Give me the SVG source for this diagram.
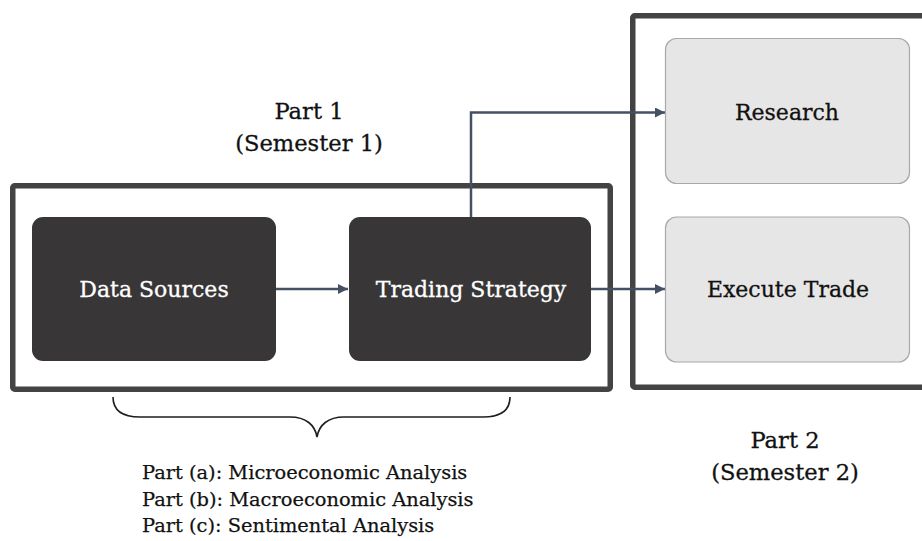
<svg xmlns="http://www.w3.org/2000/svg" width="922" height="541" viewBox="0 0 922 541">
<defs>
<style>
.frame{fill:none;stroke:#434343;stroke-width:5.5}
.dark{fill:#383637}
.light{fill:#e6e6e6;stroke:#a8a8a8;stroke-width:1.2}
.wt{font-family:"DejaVu Serif",serif;font-size:22px;fill:#ffffff;stroke:#ffffff;stroke-width:0.3;text-anchor:middle}
.bt{font-family:"DejaVu Serif",serif;font-size:22px;fill:#111111;stroke:#111111;stroke-width:0.3;text-anchor:middle}
.lbl{font-family:"DejaVu Serif",serif;font-size:22.6px;fill:#111111;stroke:#111111;stroke-width:0.3;text-anchor:middle}
.note{font-family:"DejaVu Serif",serif;font-size:19.4px;fill:#111111;stroke:#111111;stroke-width:0.25}
.conn{fill:none;stroke:#465063;stroke-width:2.5}
</style>
<marker id="ah" viewBox="0 0 10 10" refX="10" refY="5" markerWidth="10" markerHeight="10" markerUnits="userSpaceOnUse" orient="auto">
<path d="M0,0 L10,5 L0,10 z" fill="#465063"/>
</marker>
</defs>
<rect width="922" height="541" fill="#ffffff"/>
<g id="part1-frame"><rect class="frame" x="12.75" y="185.75" width="597.5" height="203.5" rx="2"/></g>
<g id="part2-frame"><rect class="frame" x="632.75" y="15.75" width="300" height="371.5" rx="2"/></g>
<g id="connectors">
<line class="conn" x1="276" y1="289" x2="348" y2="289" marker-end="url(#ah)"/>
<line class="conn" x1="591" y1="289" x2="665" y2="289" marker-end="url(#ah)"/>
<polyline class="conn" points="471,217 471,112.5 665,112.5" marker-end="url(#ah)"/>
</g>
<g id="data-sources"><rect class="dark" x="32" y="217" width="244" height="144" rx="11"/><text class="wt" x="154" y="297">Data Sources</text></g>
<g id="trading-strategy"><rect class="dark" x="349" y="217" width="242" height="144" rx="11"/><text class="wt" x="471" y="297">Trading Strategy</text></g>
<g id="research"><rect class="light" x="665.5" y="38.5" width="244" height="145" rx="11"/><text class="bt" x="787" y="120">Research</text></g>
<g id="execute-trade"><rect class="light" x="665.5" y="217" width="244" height="145" rx="11"/><text class="bt" x="788" y="297">Execute Trade</text></g>
<g id="part1-label"><text class="lbl" x="309" y="119">Part 1</text><text class="lbl" x="309" y="151">(Semester 1)</text></g>
<g id="part2-label"><text class="lbl" x="785" y="448">Part 2</text><text class="lbl" x="785" y="480">(Semester 2)</text></g>
<g id="brace"><path d="M113,397 C113,411 123,417 140,417 L290,417 C306,417 315,425 317,437 C319,425 328,417 344,417 L483,417 C500,417 510,411 510,397" fill="none" stroke="#1e1e1e" stroke-width="1.6"/></g>
<g id="parts-list">
<text class="note" x="142" y="479">Part (a): Microeconomic Analysis</text>
<text class="note" x="142" y="505.5">Part (b): Macroeconomic Analysis</text>
<text class="note" x="142" y="532">Part (c): Sentimental Analysis</text>
</g>
</svg>
